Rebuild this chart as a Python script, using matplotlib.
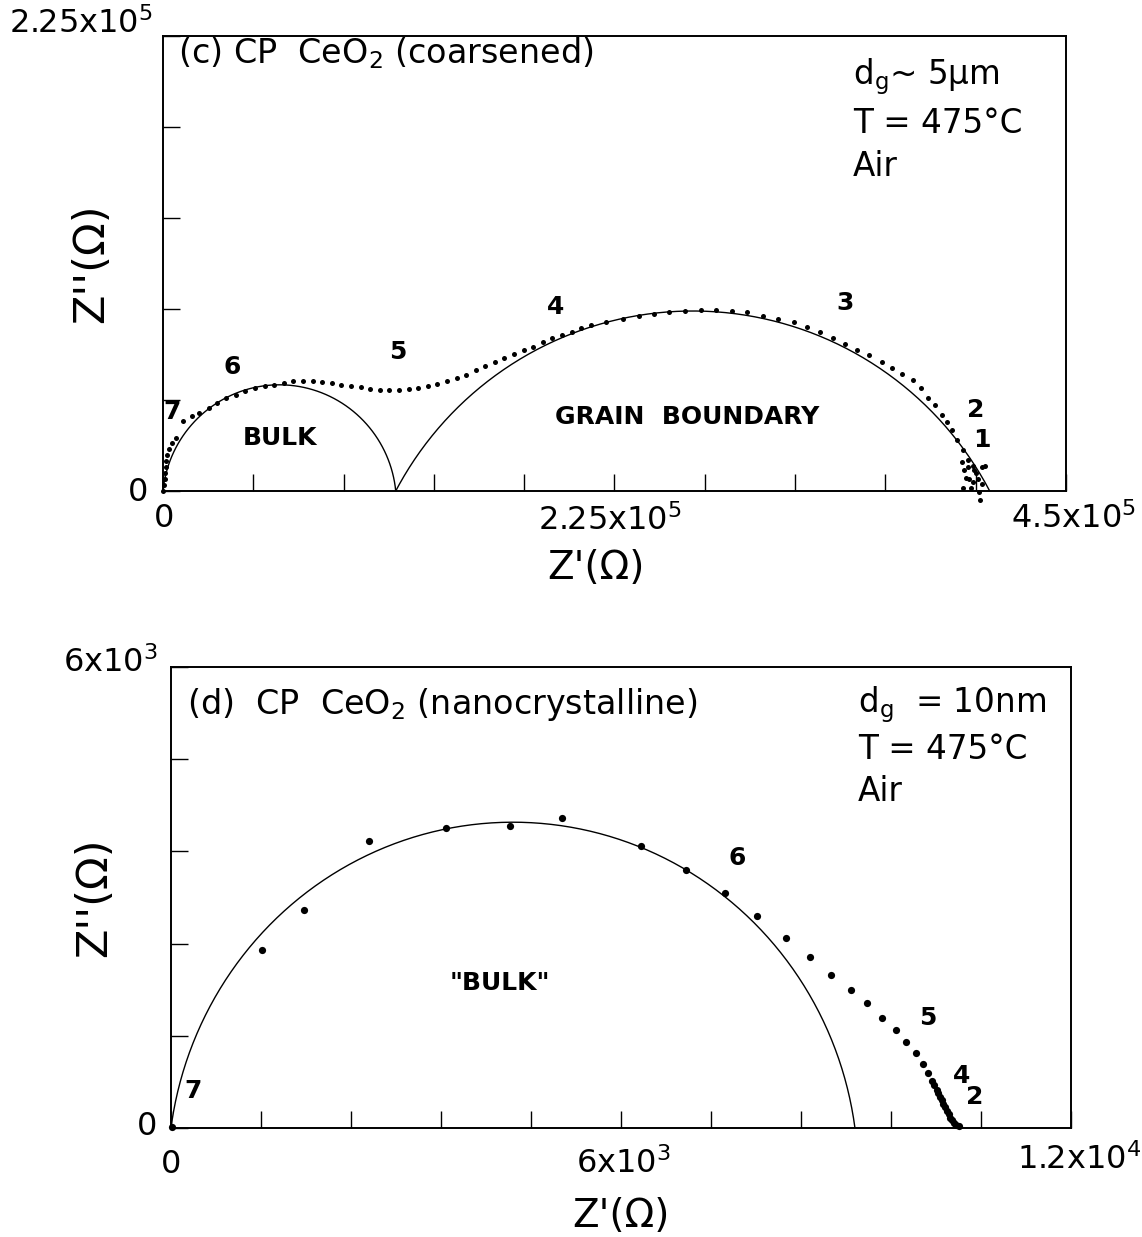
import numpy as np
import matplotlib
matplotlib.use('Agg')
from matplotlib import pyplot as plt

plt.rcParams['font.family'] = ['DejaVu Sans']
plt.rcParams['mathtext.default'] = 'regular'

# ---- (c) coarsened CeO2: measured points, in 1e5 ohm ----
c_re = [0.002, 0.005, 0.008, 0.010, 0.013, 0.017, 0.022, 0.030, 0.045, 0.065, 0.100,
        0.143, 0.182, 0.229, 0.268, 0.315, 0.363, 0.411, 0.459, 0.507, 0.554, 0.602,
        0.650, 0.698, 0.746, 0.793, 0.841, 0.889, 0.937, 0.985, 1.032, 1.080, 1.128,
        1.176, 1.224, 1.271, 1.319, 1.367, 1.415, 1.463, 1.510, 1.558, 1.606, 1.654,
        1.702, 1.749, 1.797, 1.845, 1.893, 1.941, 1.988, 2.036, 2.084, 2.132, 2.207,
        2.293, 2.370, 2.447, 2.524, 2.602, 2.679, 2.756, 2.834, 2.911, 2.988, 3.066,
        3.143, 3.212, 3.272, 3.341, 3.401, 3.461, 3.521, 3.582, 3.633, 3.684, 3.736,
        3.779, 3.813, 3.848, 3.882, 3.908, 3.933, 3.959, 3.985, 4.011, 4.036, 4.054,
        4.062, 4.080, 4.097, 3.982, 4.010, 4.044, 4.082, 4.002, 4.035, 3.985, 4.027,
        4.069, 4.072, 4.019, 3.994]
c_im = [0.000, 0.030, 0.060, 0.090, 0.120, 0.150, 0.180, 0.210, 0.235, 0.260, 0.345,
        0.369, 0.386, 0.411, 0.435, 0.460, 0.476, 0.493, 0.509, 0.517, 0.525, 0.534,
        0.542, 0.545, 0.545, 0.539, 0.534, 0.525, 0.517, 0.512, 0.506, 0.501, 0.501,
        0.501, 0.504, 0.509, 0.517, 0.529, 0.542, 0.558, 0.575, 0.596, 0.616, 0.637,
        0.657, 0.678, 0.698, 0.714, 0.736, 0.755, 0.772, 0.788, 0.805, 0.821, 0.834,
        0.850, 0.867, 0.875, 0.883, 0.891, 0.894, 0.894, 0.891, 0.883, 0.867, 0.850,
        0.834, 0.813, 0.785, 0.757, 0.728, 0.698, 0.670, 0.638, 0.610, 0.580, 0.548,
        0.507, 0.458, 0.425, 0.376, 0.343, 0.302, 0.253, 0.204, 0.155, 0.123, 0.090,
        0.057, 0.033, 0.123, 0.145, 0.120, 0.104, 0.120, 0.063, 0.046, 0.013, 0.013,
        -0.003, -0.044, 0.057, 0.106]
# fitted arcs (bulk, grain boundary): intercepts and apex height
c_arc_start = [0.0, 1.16]
c_arc_end = [1.16, 4.12]
c_arc_top = [0.525, 0.89]
c_scale = 1e5

c_freq_labels = ['7', '6', '5', '4', '3', '2', '1']
c_freq_x = [0.045, 0.344, 1.17, 1.957, 3.40, 4.05, 4.08]
c_freq_y = [0.39, 0.613, 0.687, 0.909, 0.929, 0.40, 0.25]
c_region_labels = ['BULK', 'GRAIN  BOUNDARY']
c_region_x = [0.583, 2.61]
c_region_y = [0.262, 0.366]

# ---- (d) nanocrystalline CeO2: measured points, ohm ----
d_re = [20, 1214, 1778, 2637, 3663, 4526, 5217, 6264, 6864, 7381, 7809, 8201, 8515,
        8801, 9063, 9286, 9483, 9668, 9806, 9931, 10023, 10092, 10148, 10170, 10208,
        10230, 10254, 10280, 10300, 10320, 10346, 10370, 10392, 10420, 10439, 10470,
        10507]
d_im = [10, 2322, 2841, 3740, 3905, 3930, 4039, 3670, 3355, 3061, 2761, 2472, 2222,
        1997, 1797, 1623, 1438, 1273, 1113, 974, 834, 714, 614, 560, 499, 450, 399,
        360, 315, 280, 225, 180, 135, 100, 65, 45, 30]
d_arc_start = [0.0]
d_arc_end = [9120.0]
d_arc_top = [3980.0]

d_freq_labels = ['7', '6', '5', '4', '2']
d_freq_x = [293, 7545, 10090, 10544, 10717]
d_freq_y = [482, 3515, 1432, 677, 404]
d_region_labels = ['"BULK"']
d_region_x = [4386]
d_region_y = [1888]


def arc(x0, x1, h, n=300):
    # depressed semicircle through (x0,0) and (x1,0) with apex height h
    a = (x1 - x0) / 2.0
    c = (a * a - h * h) / (2.0 * h)
    r = h + c
    t0 = np.arctan2(c, a)
    t = np.linspace(t0, np.pi - t0, n)
    return x0 + a + r * np.cos(t), -c + r * np.sin(t)


def style_axes(ax, xmax, ymax, xstep, ystep):
    ax.set_xlim(0, xmax)
    ax.set_ylim(0, ymax)
    ax.set_xticks(np.arange(0, xmax + xstep / 2, xstep))
    ax.set_yticks(np.arange(0, ymax + ystep / 2, ystep))
    ax.set_xticklabels([])
    ax.set_yticklabels([])
    ax.tick_params(direction='in', length=12, width=1.0, top=False, right=False)
    for s in ax.spines.values():
        s.set_linewidth(1.4)


fig = plt.figure(figsize=(11.42, 12.37), dpi=100)

# ================= panel (c) =================
ax1 = fig.add_axes([0.1427, 0.6031, 0.7907, 0.3678])
style_axes(ax1, 4.5e5, 2.25e5, 0.45e5, 0.45e5)
for x0, x1, h in zip(c_arc_start, c_arc_end, c_arc_top):
    ax, ay = arc(x0 * c_scale, x1 * c_scale, h * c_scale)
    ax1.plot(ax, ay, color='black', lw=1.0)
ax1.plot(np.array(c_re) * c_scale, np.array(c_im) * c_scale, 'o', color='black',
         ms=3.6, mec='none', clip_on=False)
for lab, x, y in zip(c_freq_labels, c_freq_x, c_freq_y):
    ax1.text(x * c_scale, y * c_scale, lab, ha='center', va='center',
             fontsize=18, fontweight='bold')
for lab, x, y in zip(c_region_labels, c_region_x, c_region_y):
    ax1.text(x * c_scale, y * c_scale, lab, ha='center', va='center',
             fontsize=18, fontweight='bold')

ax1.text(0.017, 0.962, '(c) CP  CeO$_2$ (coarsened)', transform=ax1.transAxes,
         ha='left', va='center', fontsize=24)
ax1.text(0.764, 0.910, 'd$_g$~ 5$\\mu$m', transform=ax1.transAxes,
         ha='left', va='center', fontsize=23.5)
ax1.text(0.764, 0.808, 'T = 475°C', transform=ax1.transAxes,
         ha='left', va='center', fontsize=23.5)
ax1.text(0.764, 0.713, 'Air', transform=ax1.transAxes,
         ha='left', va='center', fontsize=23.5)

ax1.annotate('0', (0, 0), xytext=(-25, -2), textcoords='offset pixels',
             ha='center', va='center', fontsize=23)
ax1.annotate('2.25x10$^5$', (0, 2.25e5), xytext=(-10, 12), textcoords='offset pixels',
             ha='right', va='center', fontsize=23)
ax1.annotate('0', (0, 0), xytext=(1, -28), textcoords='offset pixels',
             ha='center', va='center', fontsize=23)
ax1.annotate('2.25x10$^5$', (2.25e5, 0), xytext=(-5, -30), textcoords='offset pixels',
             ha='center', va='center', fontsize=23)
ax1.annotate('4.5x10$^5$', (4.5e5, 0), xytext=(8, -28), textcoords='offset pixels',
             ha='center', va='center', fontsize=23)
ax1.text(-0.080, 0.5, "Z''(Ω)", transform=ax1.transAxes, rotation=90,
         ha='center', va='center', fontsize=31)
ax1.text(0.48, -0.17, "Z'(Ω)", transform=ax1.transAxes,
         ha='center', va='center', fontsize=28)

# ================= panel (d) =================
ax2 = fig.add_axes([0.1497, 0.0881, 0.7881, 0.3727])
style_axes(ax2, 1.2e4, 6e3, 1.2e3, 1.2e3)
for x0, x1, h in zip(d_arc_start, d_arc_end, d_arc_top):
    ax, ay = arc(x0, x1, h)
    ax2.plot(ax, ay, color='black', lw=1.0)
ax2.plot(d_re, d_im, 'o', color='black', ms=5.2, mec='none', clip_on=False)
for lab, x, y in zip(d_freq_labels, d_freq_x, d_freq_y):
    ax2.text(x, y, lab, ha='center', va='center', fontsize=18, fontweight='bold')
for lab, x, y in zip(d_region_labels, d_region_x, d_region_y):
    ax2.text(x, y, lab, ha='center', va='center', fontsize=18, fontweight='bold')

ax2.text(0.018, 0.918, '(d)  CP  CeO$_2$ (nanocrystalline)', transform=ax2.transAxes,
         ha='left', va='center', fontsize=24)
ax2.text(0.763, 0.918, 'd$_g$  = 10nm', transform=ax2.transAxes,
         ha='left', va='center', fontsize=23.5)
ax2.text(0.763, 0.820, 'T = 475°C', transform=ax2.transAxes,
         ha='left', va='center', fontsize=23.5)
ax2.text(0.763, 0.730, 'Air', transform=ax2.transAxes,
         ha='left', va='center', fontsize=23.5)

ax2.annotate('0', (0, 0), xytext=(-24, 2), textcoords='offset pixels',
             ha='center', va='center', fontsize=23)
ax2.annotate('6x10$^3$', (0, 6e3), xytext=(-13, 4), textcoords='offset pixels',
             ha='right', va='center', fontsize=23)
ax2.annotate('0', (0, 0), xytext=(0, -36), textcoords='offset pixels',
             ha='center', va='center', fontsize=23)
ax2.annotate('6x10$^3$', (6e3, 0), xytext=(2, -36), textcoords='offset pixels',
             ha='center', va='center', fontsize=23)
ax2.annotate('1.2x10$^4$', (1.2e4, 0), xytext=(8, -32), textcoords='offset pixels',
             ha='center', va='center', fontsize=23)
ax2.text(-0.085, 0.5, "Z''(Ω)", transform=ax2.transAxes, rotation=90,
         ha='center', va='center', fontsize=31)
ax2.text(0.5, -0.19, "Z'(Ω)", transform=ax2.transAxes,
         ha='center', va='center', fontsize=28)

fig.savefig('out.png', dpi=100)
plt.close(fig)
